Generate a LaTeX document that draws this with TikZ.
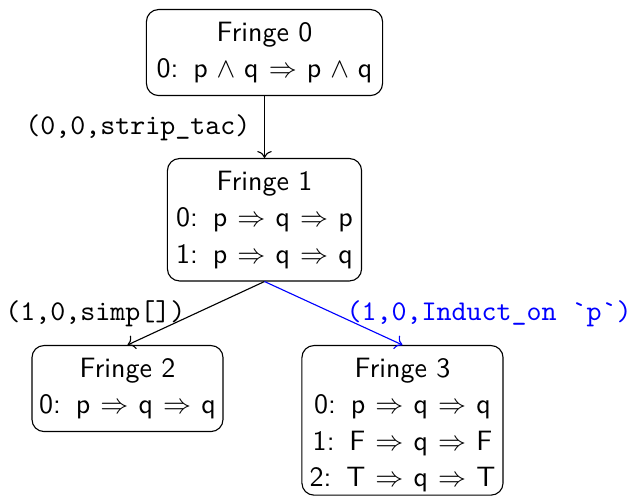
\documentclass[tikz,border=0pt]{standalone}
\usetikzlibrary{arrows.meta}
\newcommand{\sv}[1]{\mathsf{#1}}
% one numbered goal line: number, colon, then the formula
\newcommand{\gl}[2]{#1:\hspace{5.3pt}$#2$}
% struts fixing the space above the first and below the last line
\newcommand{\topstrut}{\rule{0pt}{11.4pt}}
\newcommand{\botstrut}[1]{\rule[-#1]{0pt}{#1}}
\tikzset{
  fringe/.style={draw, rounded corners=4.3pt, align=center, anchor=north,
    inner xsep=1pt, inner ysep=0pt,
    font=\sffamily\fontsize{10}{13}\selectfont},
  tac/.style={font=\ttfamily\fontsize{10.2}{12}\selectfont, inner sep=0pt},
  link/.style={->, line width=0.4pt}
}
\begin{document}
\thickmuskip=6.5mu\relax
\medmuskip=5.7mu\relax
\begin{tikzpicture}[x=0.357pt, y=-0.357pt]
  \useasboundingbox (0,0) rectangle (628,504);

  % goal fringes
  \node[fringe, minimum width=84.3pt] (f0) at (264.5,9)
    {\topstrut Fringe 0\\
     \gl{0}{\sv{p}\wedge\sv{q}\Rightarrow\sv{p}\wedge\sv{q}}\botstrut{6.3pt}};
  \node[fringe, minimum width=69.3pt] (f1) at (264.5,158)
    {\topstrut Fringe 1\\
     \gl{0}{\sv{p}\Rightarrow\sv{q}\Rightarrow\sv{p}}\\
     \gl{1}{\sv{p}\Rightarrow\sv{q}\Rightarrow\sv{q}}\botstrut{6.3pt}};
  \node[fringe, minimum width=68.2pt] (f2) at (127.5,345)
    {\topstrut Fringe 2\\
     \gl{0}{\sv{p}\Rightarrow\sv{q}\Rightarrow\sv{q}}\botstrut{6.3pt}};
  \node[fringe, minimum width=71.8pt] (f3) at (402.5,345)
    {\topstrut Fringe 3\\
     \gl{0}{\sv{p}\Rightarrow\sv{q}\Rightarrow\sv{q}}\\
     \gl{1}{\sv{F}\Rightarrow\sv{q}\Rightarrow\sv{F}}\\
     \gl{2}{\sv{T}\Rightarrow\sv{q}\Rightarrow\sv{T}}\botstrut{3pt}};

  % tactic applications
  \draw[link] (f0) -- (f1);
  \draw[link] (f1.south) -- (f2.north);
  \draw[link, blue] (f1.south) -- (f3.north);

  \node[tac, anchor=east] (l0) at (251,128) {(0,0,strip\_tac)};
  \node[tac, anchor=east] (l1) at (186,314) {(1,0,simp[])};
  \node[tac, anchor=west, text=blue] (l2) at (346,314) {(1,0,Induct\_on \textasciigrave p\textasciigrave)};
\end{tikzpicture}
\end{document}
